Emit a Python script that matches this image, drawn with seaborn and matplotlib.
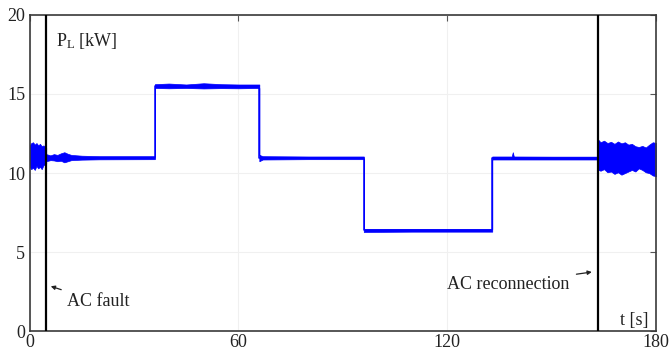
import numpy as np
import pandas as pd
import matplotlib
matplotlib.use("Agg")
import matplotlib.pyplot as plt
import seaborn as sns

# ---- data ----
# step boundaries (s) and mean load power level (kW) for each interval
step_edges = [0, 4.8, 36.0, 66.0, 96.0, 132.9, 163.4, 180]
step_levels = [11.05, 10.97, 15.5, 10.97, 6.38, 10.95, 10.95]

# envelope of the measured ripple (kW)
env_t  = [0.0, 0.5, 1.0, 1.5, 2.0, 2.5, 3.0, 3.5, 4.0, 4.8,
          4.8, 6.0, 7.0, 8.0, 9.0, 10.0, 11.0, 12.0, 15.0, 20.0, 36.0,
          36.0, 40.0, 45.0, 50.0, 55.0, 60.0, 66.0,
          66.0, 67.0, 80.0, 96.0,
          96.0, 110.0, 132.9,
          132.9, 138.5, 138.8, 139.1, 150.0, 163.4,
          163.4, 164.0, 165.0, 166.0, 167.0, 168.0, 169.0, 170.0, 171.0,
          172.0, 173.0, 174.0, 175.0, 176.0, 177.0, 178.0, 179.0, 180.0]
env_lo = [10.4, 10.25, 10.35, 10.2, 10.45, 10.3, 10.4, 10.25, 10.5, 10.6,
          10.75, 10.82, 10.8, 10.75, 10.78, 10.68, 10.75, 10.82, 10.85, 10.87, 10.88,
          15.38, 15.36, 15.38, 15.35, 15.37, 15.36, 15.38,
          10.75, 10.86, 10.88, 10.88,
          6.28, 6.30, 6.30,
          10.86, 10.86, 10.86, 10.86, 10.86, 10.86,
          10.2, 10.15, 10.25, 10.05, 10.1, 9.95, 10.05, 9.9, 10.0,
          10.1, 10.2, 10.1, 10.3, 10.2, 10.05, 10.0, 9.85, 9.8]
env_hi = [11.75, 11.9, 11.95, 11.8, 11.9, 11.75, 11.85, 11.7, 11.75, 11.6,
          11.2, 11.12, 11.2, 11.15, 11.25, 11.32, 11.22, 11.15, 11.1, 11.07, 11.07,
          15.62, 15.66, 15.6, 15.68, 15.62, 15.6, 15.6,
          11.15, 11.07, 11.05, 11.05,
          6.46, 6.47, 6.46,
          11.05, 11.05, 11.32, 11.05, 11.04, 11.04,
          12.1, 11.95, 12.05, 11.9, 11.98, 11.85, 12.0, 11.88, 11.95,
          11.8, 11.85, 11.7, 11.65, 11.72, 11.62, 11.8, 11.95, 11.9]

event_times = [4.8, 163.4]
x_ticks = [0, 60, 120, 180]
y_ticks = [0, 5, 10, 15, 20]

# ---- build step polyline from the step data ----
sx, sy = [], []
for i, lvl in enumerate(step_levels):
    sx += [step_edges[i], step_edges[i + 1]]
    sy += [lvl, lvl]
df = pd.DataFrame({"t": sx, "P": sy})

sns.set_theme(style="white")
plt.rcParams["font.family"] = ["Liberation Serif", "DejaVu Serif"]
plt.rcParams["mathtext.fontset"] = "custom"
plt.rcParams["mathtext.rm"] = "Liberation Serif"
plt.rcParams["mathtext.it"] = "Liberation Serif:italic"

FS = 13
fig = plt.figure(figsize=(6.71, 3.54), dpi=100)
ax = fig.add_axes([0.044, 0.064, 0.934, 0.894])

BLUE = "#0000ff"
sns.lineplot(data=df, x="t", y="P", estimator=None, sort=False,
             color=BLUE, linewidth=1.1, ax=ax)
ax.fill_between(env_t, env_lo, env_hi, color=BLUE, linewidth=0.5)

for et in event_times:
    ax.axvline(et, color="black", linewidth=1.6, zorder=5)

ax.set_xlim(x_ticks[0], x_ticks[-1])
ax.set_ylim(y_ticks[0], y_ticks[-1])
ax.set_xticks(x_ticks)
ax.set_yticks(y_ticks)
ax.set_xlabel("")
ax.set_ylabel("")
ax.grid(True, color="#f0f0f0", linewidth=0.8)
ax.set_axisbelow(True)

for s in ax.spines.values():
    s.set_color("#3a3a3a")
    s.set_linewidth(1.2)
    s.set_visible(True)

ax.tick_params(axis="both", direction="in", length=4, width=0.8,
               color="#555555", labelsize=FS, labelcolor="#222222",
               top=True, right=True)
ax.tick_params(axis="x", pad=2.0)
ax.tick_params(axis="y", pad=3.0)

ax.text(7.6, 19.0, r"P$_{\rm L}$ [kW]", fontsize=FS, color="#222222",
        ha="left", va="top")
ax.text(177.8, 0.7, "t [s]", fontsize=FS, color="#222222",
        ha="right", va="center")

ax.annotate("AC fault", xy=(6.1, 2.85), xytext=(10.8, 1.86),
            fontsize=FS, color="#222222", ha="left", va="center",
            arrowprops=dict(arrowstyle="-|>", color="#222222", lw=0.9,
                            mutation_scale=6, shrinkA=2, shrinkB=0))
ax.annotate("AC reconnection", xy=(161.5, 3.75), xytext=(119.8, 2.99),
            fontsize=FS, color="#222222", ha="left", va="center",
            arrowprops=dict(arrowstyle="-|>", color="#222222", lw=0.9,
                            mutation_scale=6, shrinkA=3, shrinkB=0))

fig.savefig("out.png", dpi=100)
